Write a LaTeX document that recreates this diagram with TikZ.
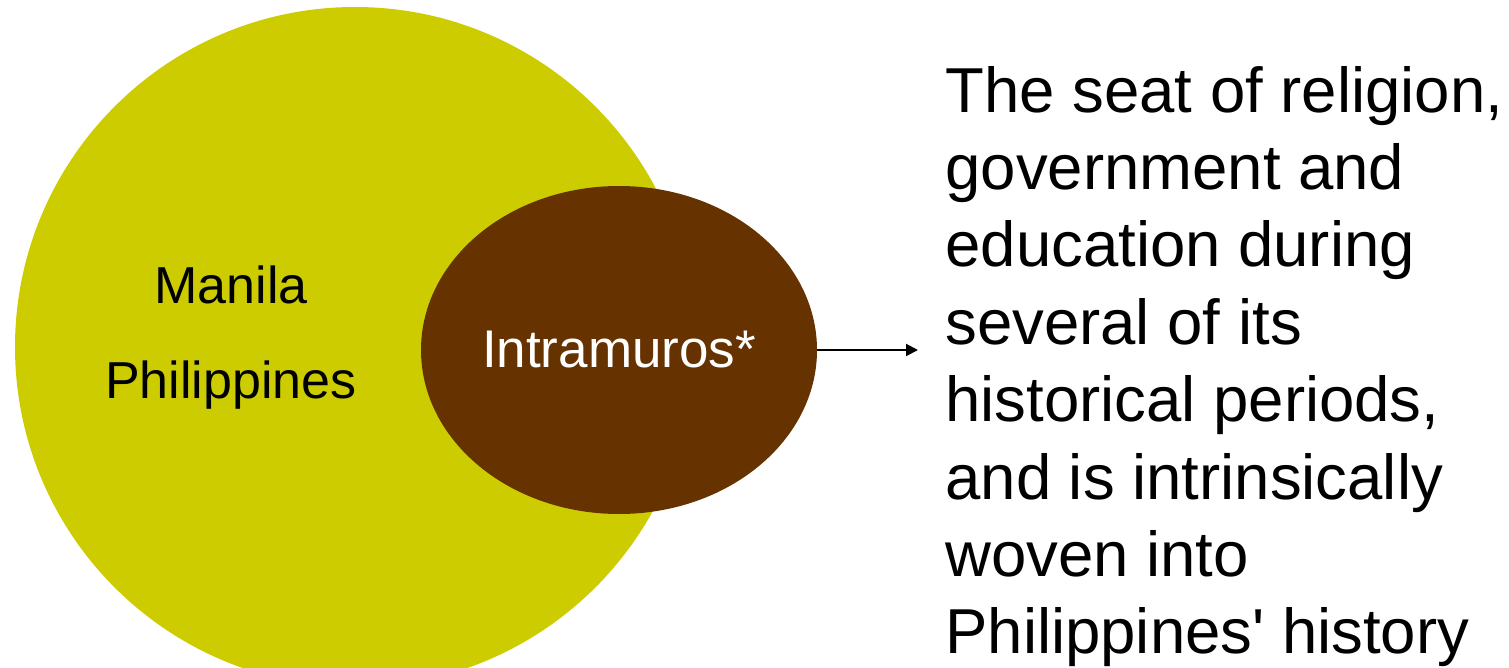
\documentclass[tikz,border=0pt]{standalone}
\usepackage{fontspec}
\setmainfont{Liberation Sans}[Ligatures=TeXOff]
\usepackage{tikz}
\usetikzlibrary{positioning, arrows.meta, shapes.geometric}
\definecolor{manilaolive}{HTML}{CCCC00}
\definecolor{walledbrown}{HTML}{663300}

\begin{document}
\begin{tikzpicture}[
    x=0.5pt, y=-0.5pt,
    city/.style={circle, fill=manilaolive, minimum size=340pt, inner sep=0pt},
    walled/.style={ellipse, fill=walledbrown, minimum width=198pt,
                   minimum height=164pt, inner sep=0pt, text=white,
                   font=\fontsize{26.5}{31}\selectfont},
    lbl/.style={align=center, font=\fontsize{26}{47.5}\selectfont},
    desc/.style={align=left, inner sep=0pt, font=\fontsize{31.75}{38.7}\selectfont},
    ar/.style={-{Triangle[length=6pt, width=6pt]}, line width=1pt},
  ]
  \useasboundingbox (0,0) rectangle (1509,668);
  \node[city] (manila) at (355,347) {};
  \node[lbl] (cityname) at (231,338) {Manila\\Philippines};
  \node[walled] (intra) at (619,350) {Intramuros*};
  \node[desc, anchor=north west] (desc) at (945,65.6)
    {The seat of religion,\\government and\\education during\\several of its\\
     historical periods,\\and is intrinsically\\woven into\\Philippines' history};

  \coordinate (tip) at (918,350);
  \draw[ar] (intra) -- (tip);
\end{tikzpicture}
\end{document}
